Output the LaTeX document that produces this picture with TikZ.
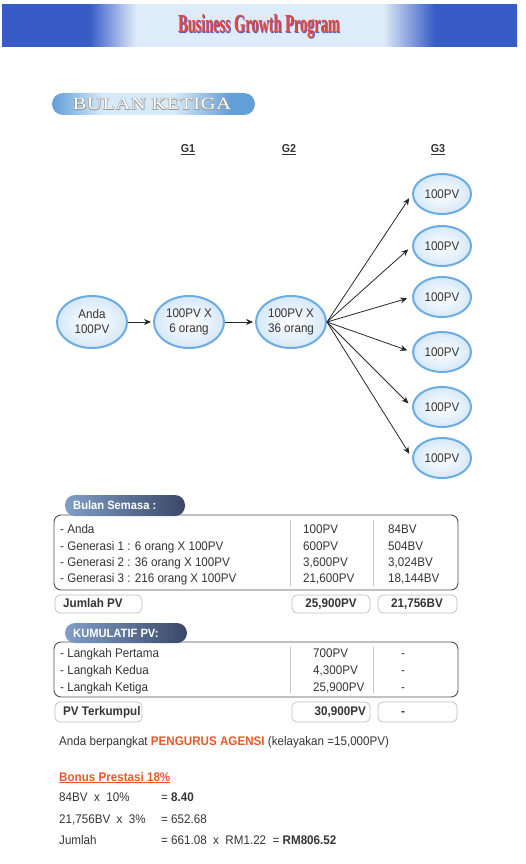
\documentclass[tikz,border=0pt]{standalone}
\usepackage{fontspec}
\setmainfont{Liberation Sans}[FakeStretch=0.93]
\newfontfamily\titlefont{Liberation Serif}[FakeStretch=0.55]
\newfontfamily\pillfont{Liberation Serif}[FakeStretch=1.2,LetterSpace=4]
\usetikzlibrary{arrows.meta,shapes.geometric}
\definecolor{bandDark}{RGB}{56,92,198}
\definecolor{bandLight}{RGB}{222,235,248}
\definecolor{pillBlue}{RGB}{98,158,216}
\definecolor{pillLight}{RGB}{214,234,249}
\definecolor{ellBlue}{RGB}{108,172,228}
\definecolor{ellGlow}{RGB}{214,232,248}
\definecolor{tagLeft}{RGB}{128,158,200}
\definecolor{tagRight}{RGB}{58,72,102}
\definecolor{txtGris}{RGB}{52,52,52}
\definecolor{boxGris}{RGB}{80,80,80}
\definecolor{sepGris}{RGB}{200,200,200}
\definecolor{sumGris}{RGB}{190,190,190}
\definecolor{titreRouge}{RGB}{232,70,56}
\definecolor{titreBleu}{RGB}{92,96,192}
\definecolor{accentOrange}{RGB}{238,86,40}
% tikz fits the 25bp--75bp part of a shading to the path
\pgfdeclarehorizontalshading{bandshade}{100bp}{color(0bp)=(bandDark); color(33.5bp)=(bandDark);
  color(38bp)=(bandLight); color(62bp)=(bandLight); color(67bp)=(bandDark); color(100bp)=(bandDark)}
\pgfdeclarehorizontalshading{pillshade}{100bp}{color(0bp)=(pillBlue); color(25bp)=(pillBlue); color(37.5bp)=(pillLight);
  color(55bp)=(pillLight); color(69bp)=(pillBlue); color(100bp)=(pillBlue)}

\begin{document}
\begin{tikzpicture}[
  x=1pt, y=-1pt,
  every node/.style={font=\fontsize{12.5}{15}\selectfont, text=txtGris, inner sep=1pt},
  bulle/.style={ellipse, draw=ellBlue, line width=2pt, inner color=white, outer color=ellGlow,
                minimum width=70pt, minimum height=52pt, align=center, inner sep=0pt},
  petite/.style={bulle, minimum width=58pt, minimum height=40pt},
  gen/.style={font=\fontsize{11.5}{13}\selectfont\bfseries},
  tag/.style={rounded corners=10pt, left color=tagLeft, right color=tagRight},
  tagtxt/.style={font=\fontsize{12}{14}\selectfont\bfseries, text=white},
  cadre/.style={draw=boxGris, line width=0.9pt, rounded corners=7pt},
  somme/.style={draw=sumGris, line width=0.7pt, rounded corners=5pt},
  sep/.style={draw=sepGris, line width=0.6pt},
  fl/.style={-{Stealth[length=7pt,width=6pt]}, line width=0.8pt, black!85},
  lig/.style={anchor=west, text height=9pt, text depth=3pt},
  gras/.style={lig, font=\fontsize{12.5}{15}\selectfont\bfseries}
]
\useasboundingbox (0,0) rectangle (526,864);

% bandeau
\shade[shading=bandshade] (2,5) rectangle (517,47);
\node[font=\titlefont\fontsize{26}{28}\selectfont\bfseries, text=titreBleu] (titreOmbre) at (259.8,27.5) {Business Growth Program};
\node[font=\titlefont\fontsize{26}{28}\selectfont\bfseries, text=titreRouge] (titre) at (259,26) {Business Growth Program};

\shade[shading=pillshade, rounded corners=11pt] (52,93) rectangle (255,115);
\foreach \dx/\dy [count=\i] in {0.6/0.6,-0.5/-0.5,0.6/-0.5,-0.5/0.6}
  \node[font=\pillfont\fontsize{17}{18}\selectfont, text=black!40] (moisOmbre\i) at (152+\dx,104+\dy) {BULAN KETIGA};
\node[font=\pillfont\fontsize{17}{18}\selectfont, text=white] (mois) at (152,104) {BULAN KETIGA};

% generations
\node[gen] (lg1) at (188,150) {\underline{G1}};
\node[gen] (lg2) at (289,150) {\underline{G2}};
\node[gen] (lg3) at (438,150) {\underline{G3}};

\node[bulle] (anda) at (92,322)  {Anda\\100PV};
\node[bulle] (g1)   at (189,322) {100PV X\\6 orang};
\node[bulle] (g2)   at (291,322) {100PV X\\36 orang};

\draw[fl, shorten >=2pt] (anda) -- (g1);
\draw[fl, shorten >=2pt] (g1) -- (g2);

\foreach \y [count=\i] in {194,246,297,352,407,458} {
  \node[petite] (g3n\i) at (442,\y) {100PV};
  \draw[fl, shorten >=5pt] (g2.east) -- (g3n\i.west);
}

% bulan semasa
\draw[cadre] (54,515) rectangle (458,590);
\draw[sep] (290,520) -- (290,586);
\draw[sep] (373,520) -- (373,586);
\shade[tag] (65,495) rectangle (185,516);
\node[tagtxt, anchor=west] (semasa) at (72,505.5) {Bulan Semasa :};

\foreach \y/\a/\b/\c [count=\i] in {530/- Anda/100PV/84BV,
    547/- Generasi 1 : 6 orang X 100PV/600PV/504BV,
    563/- Generasi 2 : 36 orang X 100PV/{3,600PV}/{3,024BV},
    579/- Generasi 3 : 216 orang X 100PV/{21,600PV}/{18,144BV}} {
  \node[lig] (sa\i) at (59,\y) {\a};
  \node[lig] (sb\i) at (302,\y) {\b};
  \node[lig] (sc\i) at (387,\y) {\c};
}

\draw[somme] (55,595) rectangle (142,613);
\draw[somme] (292,595) rectangle (370,613);
\draw[somme] (378,595) rectangle (457,613);
\node[gras] (jpv) at (62,604) {Jumlah PV};
\node[gras, anchor=center] (jpvA) at (331,604) {25,900PV};
\node[gras, anchor=center] (jpvB) at (417,604) {21,756BV};

% kumulatif
\draw[cadre] (54,642) rectangle (458,697);
\draw[sep] (290,647) -- (290,693);
\draw[sep] (373,647) -- (373,693);
\shade[tag] (65,623) rectangle (187,643);
\node[tagtxt, anchor=west] (kumul) at (72,633) {KUMULATIF PV:};

\foreach \y/\a/\b [count=\i] in {654/- Langkah Pertama/700PV,
    671/- Langkah Kedua/{4,300PV},
    688/- Langkah Ketiga/{25,900PV}} {
  \node[lig] (ka\i) at (59,\y) {\a};
  \node[lig] (kb\i) at (312,\y) {\b};
  \node[lig, anchor=center] (kc\i) at (403,\y) {-};
}

\draw[somme] (55,702) rectangle (142,722);
\draw[somme] (292,702) rectangle (370,722);
\draw[somme] (378,702) rectangle (457,722);
\node[gras] (pvt) at (62,712) {PV Terkumpul};
\node[gras, anchor=east] (pvtA) at (367,712) {30,900PV};
\node[gras, anchor=center] (pvtB) at (403,712) {-};

% pangkat et bonus
\node[lig] (pangkat) at (58,742) {Anda berpangkat \textcolor{accentOrange}{\bfseries PENGURUS AGENSI} (kelayakan =15,000PV)};
\node[gras, text=accentOrange] (bonus) at (58,778) {\underline{Bonus Prestasi 18\%}};

\node[lig] (b1) at (58,798) {84BV\ \ x\ \ 10\%};
\node[lig] (b2) at (58,820) {21,756BV\ \ x\ \ 3\%};
\node[lig] (b3) at (58,841) {Jumlah};
\node[lig] (v1) at (160,798) {= \textbf{8.40}};
\node[lig] (v2) at (160,820) {= 652.68};
\node[lig] (v3) at (160,841) {= 661.08\ \ x\ \ RM1.22\ \ = \textbf{RM806.52}};

\end{tikzpicture}
\end{document}
